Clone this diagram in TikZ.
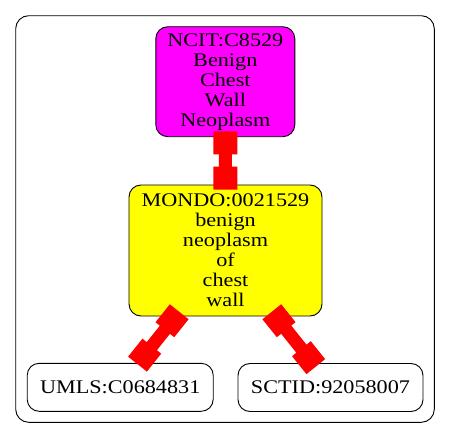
\documentclass[tikz,border=0pt]{standalone}
\usepackage{fontspec}
\setmainfont{Liberation Serif}[FakeStretch=1.15]
\usetikzlibrary{arrows.meta}
\begin{document}
\begin{tikzpicture}[x=1pt,y=-1pt,
  box/.style={draw=black, line width=0.9pt, rounded corners=12pt, align=center, inner sep=0pt,
    font=\fontsize{19.3pt}{20pt}\selectfont},
  edge/.style={draw=red, line width=13pt,
    {Square[length=23pt,width=24pt]}-{Square[length=23pt,width=24pt]}}
]
\useasboundingbox (0,0) rectangle (451,439);
\draw[line width=0.9pt, rounded corners=13pt] (15.7,15.7) rectangle (434.3,422.3);
\node[box, fill={rgb,255:red,255;green,0;blue,255}, minimum width=139pt, minimum height=110pt] (ncit) at (225.3,81.7)
  {NCIT:C8529\\Benign\\Chest\\Wall\\Neoplasm};
\node[box, fill={rgb,255:red,255;green,255;blue,0}, minimum width=193pt, minimum height=131pt] (mondo) at (225.5,250.5)
  {MONDO:0021529\\benign\\neoplasm\\of\\chest\\wall};
\node[box, minimum width=186pt, minimum height=48pt] (umls) at (120.2,387.3) {UMLS:C0684831};
\node[box, minimum width=185pt, minimum height=48pt] (sctid) at (330.5,387.5) {SCTID:92058007};
\draw[edge] ([yshift=5.7pt]ncit.south) -- ([yshift=-5pt]mondo.north);
\draw[edge] ([xshift=-46.3pt,yshift=4.7pt]mondo.south) -- ([xshift=17.3pt,yshift=-1.3pt]umls.north);
\draw[edge] ([xshift=46.3pt,yshift=4.7pt]mondo.south) -- ([xshift=-14.7pt,yshift=-3.6pt]sctid.north);
\end{tikzpicture}
\end{document}
